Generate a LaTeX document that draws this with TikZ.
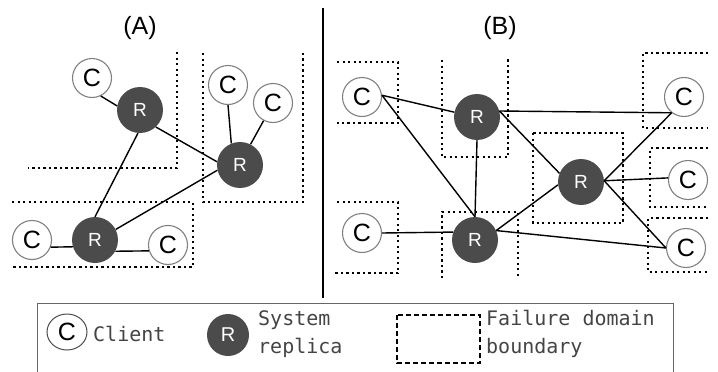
\documentclass[tikz,border=0pt]{standalone}
\usepackage{fontspec}
\usetikzlibrary{shapes.geometric}
\setmainfont{Liberation Sans}
\newfontfamily\monofont{DejaVu Sans Mono}
\definecolor{rfill}{HTML}{4B4B4B}
\definecolor{cline}{HTML}{808080}
\definecolor{legtext}{HTML}{444444}
\definecolor{legbox}{HTML}{666666}
\begin{document}
\begin{tikzpicture}[x=1pt,y=-1pt,
  client/.style={circle,draw=cline,line width=1.1pt,fill=white,minimum size=39pt,inner sep=0pt,font=\fontsize{25}{25}\selectfont},
  replica/.style={circle,fill=rfill,text=white,minimum size=46pt,inner sep=0pt,font=\fontsize{19}{19}\selectfont},
  link/.style={line width=1.4pt,black},
  fdom/.style={line width=2pt,dash pattern=on 2.2pt off 3.3pt,black},
  title/.style={font=\fontsize{25}{25}\selectfont},
  legtxt/.style={font=\monofont\fontsize{20}{20}\selectfont,text=legtext,anchor=base west,inner sep=0pt}]
\useasboundingbox (0,0) rectangle (718,372);

% titles
\node[title] (ta) at (140,28) {(A)};
\node[title] (tb) at (500,28) {(B)};

% divider
\draw[line width=1.5pt] (323,8) -- (323,298);

% ---------- Panel A failure domains ----------
\draw[fdom] (177,52) -- (177,168) -- (28,168);
\draw[fdom] (203,53) -- (203,202) -- (303,202) -- (303,53);
\draw[fdom] (12,202) -- (193,202) -- (193,267) -- (12,267);

% ---------- Panel A nodes ----------
\node[client] (ac1) at (92,78) {C};
\node[replica] (ar1) at (140,110) {R};
\node[client] (ac2) at (228,85) {C};
\node[client] (ac3) at (273,103) {C};
\node[replica] (ar2) at (240,165) {R};
\node[client] (ac4) at (32,240) {C};
\node[replica] (ar3) at (95,240) {R};
\node[client] (ac5) at (168,245) {C};

\draw[link] (ac1.-64) -- (ar1.170);
\draw[link] (ar1.-47) -- (ar2.172);
\draw[link] (ar1.-95) -- (ar3.north);
\draw[link] (ar2.-167) -- (ar3.27);
\draw[link] (ar2.112) -- (ac2.south);
\draw[link] (ar2.63) -- (ac3.-118);
\draw[link] (ac4.-21) -- (ar3.-163);
\draw[link] (ar3.-29) -- (ac5.-163);

% ---------- Panel B failure domains ----------
\draw[fdom] (337,62) -- (398,62) -- (398,123) -- (337,123);
\draw[fdom] (337,202) -- (398,202) -- (398,273) -- (333,273);
\draw[fdom] (442,60) -- (442,157) -- (508,157) -- (508,57);
\draw[fdom] (442,278) -- (442,212) -- (518,212) -- (518,278);
\draw[fdom] (533,133) rectangle (623,223);
\draw[fdom] (708,53) -- (643,53) -- (643,128) -- (708,128);
\draw[fdom] (708,148) -- (650,148) -- (650,207) -- (708,207);
\draw[fdom] (708,218) -- (648,218) -- (648,272) -- (708,272);

% ---------- Panel B nodes ----------
\node[client] (bl1) at (362,97) {C};
\node[client] (bl2) at (362,233) {C};
\node[replica] (br1) at (477,117) {R};
\node[replica] (br2) at (475,240) {R};
\node[replica] (br3) at (581,182) {R};
\node[client] (bc1) at (684,97) {C};
\node[client] (bc2) at (688,180) {C};
\node[client] (bc3) at (686,248) {C};

\draw[link] (bl1.5) -- (br1.168);
\draw[link] (bl1.5) -- (br2.north);
\draw[link] (br1.south) -- (br2.north);
\draw[link] (br1.15) -- (bc1.-128);
\draw[link] (br1.15) -- (br3.158);
\draw[link] (br3.3) -- (bc1.-128);
\draw[link] (br3.3) -- (bc2.174);
\draw[link] (br3.3) -- (bc3.180);
\draw[link] (br2.24) -- (br3.-173);
\draw[link] (br2.24) -- (bc3.180);
\draw[link] (bl2.east) -- (br2.160);

% ---------- Legend ----------
\draw[legbox,line width=1pt] (37,373) -- (37,303) -- (673,303) -- (673,373);
\node[ellipse,draw=black!70,line width=1pt,minimum width=40pt,minimum height=36pt,inner sep=0pt,font=\fontsize{25}{25}\selectfont] (lc) at (67,332) {C};
\node[legtxt] (lct) at (93,341) {Client};
\node[replica,minimum size=42pt,font=\fontsize{20}{20}\selectfont] (lr) at (228,335) {R};
\node[legtxt] (lrt1) at (258,325) {System};
\node[legtxt] (lrt2) at (258,353) {replica};
\draw[line width=1.3pt,dash pattern=on 5pt off 3pt] (397,315) rectangle (480,363);
\node[legtxt] (lft1) at (486,325) {Failure domain};
\node[legtxt] (lft2) at (486,353) {boundary};
\end{tikzpicture}
\end{document}
